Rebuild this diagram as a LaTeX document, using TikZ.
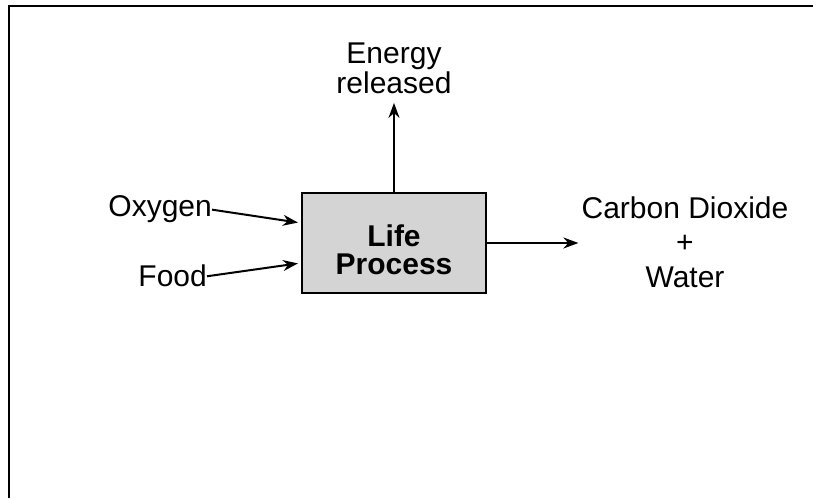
\documentclass[tikz,border=0pt]{standalone}
\usepackage{fontspec}
\setmainfont{Liberation Sans}
\definecolor{boxgray}{RGB}{212, 212, 212}
\usetikzlibrary{arrows.meta, positioning}

\begin{document}
\begin{tikzpicture}[
  x=1pt, y=1pt,
  proc/.style={rectangle, draw=black, line width=2.2pt, fill=boxgray,
               minimum width=184pt, minimum height=100pt},
  lbl/.style={inner sep=0pt, align=center, font=\fontsize{30}{30}\selectfont},
  arr/.style={-{Stealth[length=15pt, width=11pt]}, line width=2pt}
]
  \useasboundingbox (0,0) rectangle (813,498);
  % frame along the top and left edge
  \draw[line width=1.4pt] (9,0) |- (813,492);

  \node[proc] (life) at (394,255) {};
  \node[lbl, font=\fontsize{30}{28}\selectfont\bfseries] (lifetext)
    at ([yshift=-7pt]life.center) {Life\\Process};
  \node[lbl, above=98pt of life] (energy) {Energy\\released};
  \node[lbl, anchor=base east] (oxygen) at (212,281) {Oxygen};
  \node[lbl, anchor=base east] (food) at (207,211) {Food};
  \node[lbl, font=\fontsize{30}{34.5}\selectfont] (products) at (685,256)
    {Carbon Dioxide\\+\\Water};

  \draw[arr, shorten >=3pt] (oxygen.east) -- ([yshift=20pt]life.west);
  \draw[arr, shorten >=3pt] (food.east) -- ([yshift=-20pt]life.west);
  \draw[arr, shorten >=9pt] (life.north) -- (life.north |- energy.south);
  \draw[arr, shorten >=3pt] (life.east) -- (life.east -| products.west);
\end{tikzpicture}
\end{document}
